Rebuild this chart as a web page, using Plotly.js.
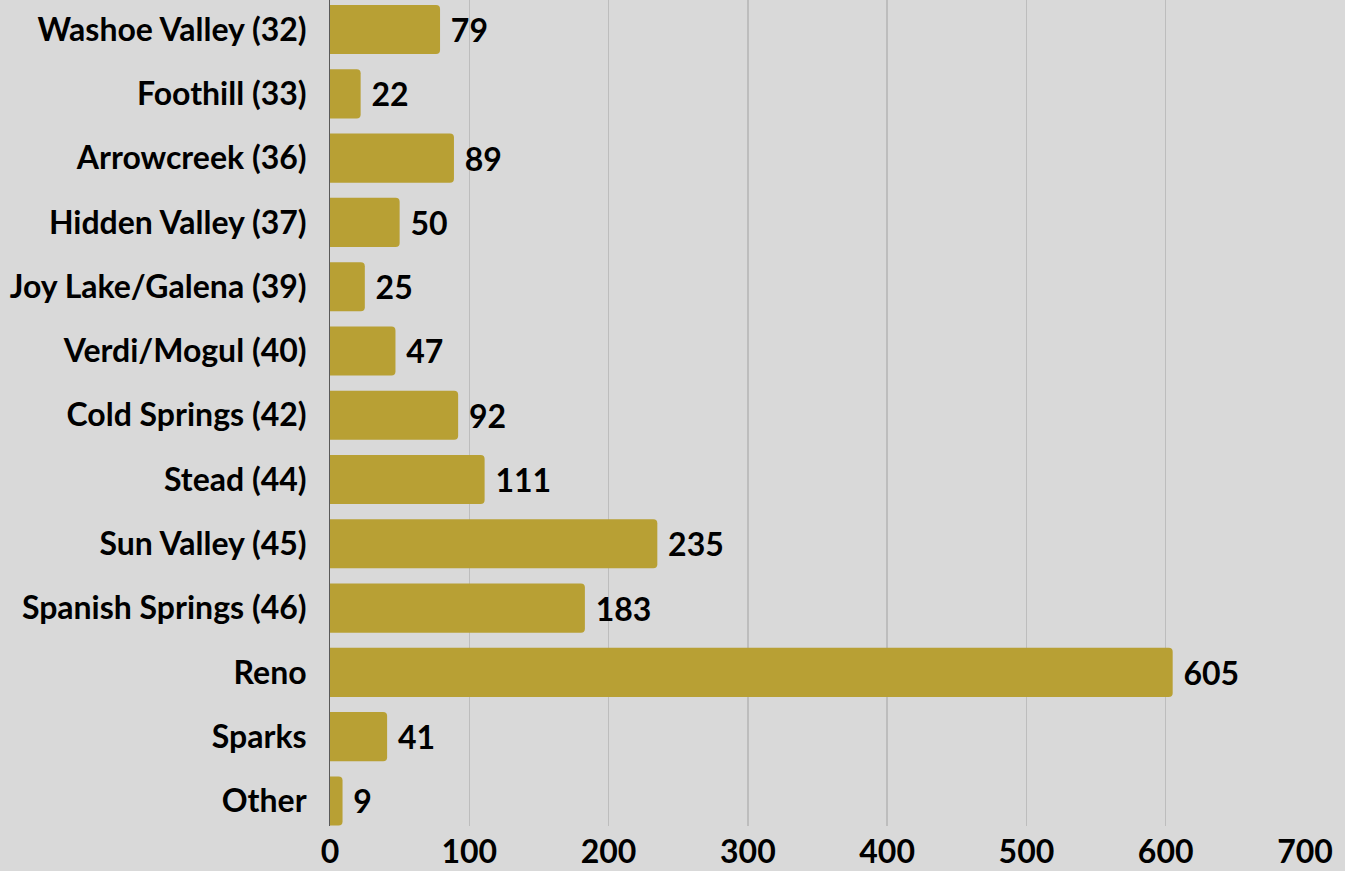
<!DOCTYPE html>
<html>
<head>
<meta charset="utf-8">
<script src="https://cdn.plot.ly/plotly-3.0.1.min.js"></script>
<style>html,body{margin:0;padding:0;background:#D9D9D9;}#chart{width:1345px;height:871px;}</style>
</head>
<body>
<div id="chart"></div>
<script>
const categories = ["Washoe Valley (32)", "Foothill (33)", "Arrowcreek (36)", "Hidden Valley (37)", "Joy Lake/Galena (39)", "Verdi/Mogul (40)", "Cold Springs (42)", "Stead (44)", "Sun Valley (45)", "Spanish Springs (46)", "Reno", "Sparks", "Other"];
const values = [79, 22, 89, 50, 25, 47, 92, 111, 235, 183, 605, 41, 9];
const xTicks = [0, 100, 200, 300, 400, 500, 600, 700];

const trace = {
  type: 'bar',
  orientation: 'h',
  y: categories,
  x: values,
  marker: {color: '#B8A034', cornerradius: 4},
  text: values.map(String),
  texttemplate: ' %{text}',
  textposition: 'outside',
  cliponaxis: false,
  textfont: {family: 'Lato', size: 32, color: '#000000', weight: 'bold'},
  hoverinfo: 'skip'
};

const layout = {
  width: 1345, height: 871,
  paper_bgcolor: '#D9D9D9',
  plot_bgcolor: '#D9D9D9',
  margin: {l: 330, r: 40, t: 0, b: 45},
  bargap: 0.236,
  showlegend: false,
  font: {family: 'Lato', color: '#000000', weight: 'bold'},
  xaxis: {
    range: [0, 700],
    tickvals: xTicks,
    ticktext: xTicks.map(String),
    showgrid: true,
    gridcolor: '#BDBDBD',
    gridwidth: 1.3,
    zeroline: false,
    showline: false,
    ticks: '',
    ticklabelstandoff: 4,
    tickfont: {family: 'Lato', size: 32, color: '#000000', weight: 'bold'},
    fixedrange: true
  },
  yaxis: {
    type: 'category',
    categoryorder: 'array',
    categoryarray: categories,
    range: [12.39, -0.46],
    showgrid: false,
    zeroline: false,
    showline: true,
    linecolor: '#595959',
    linewidth: 1,
    ticks: '',
    ticklabelstandoff: 16,
    tickfont: {family: 'Lato', size: 32, color: '#000000', weight: 'bold'},
    fixedrange: true
  }
};

Plotly.newPlot('chart', [trace], layout, {displayModeBar: false, staticPlot: true});
</script>
</body>
</html>
